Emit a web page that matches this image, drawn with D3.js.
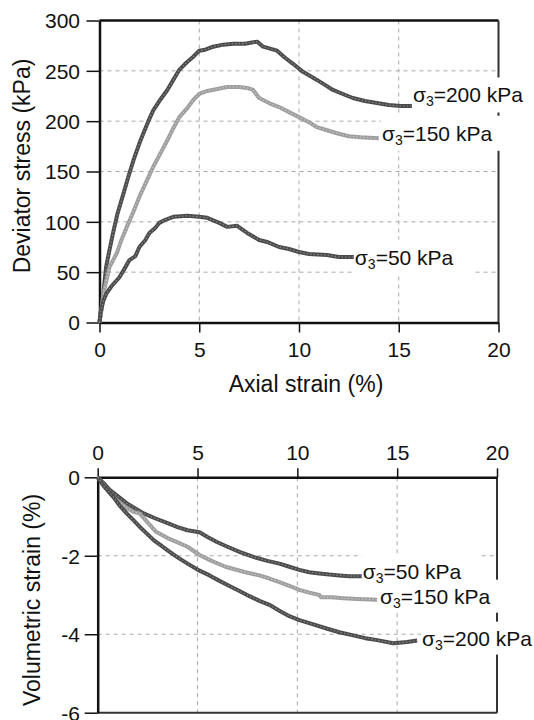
<!DOCTYPE html>
<html><head><meta charset="utf-8">
<script src="https://cdn.jsdelivr.net/npm/d3@7/dist/d3.min.js"></script>
<style>
html,body{margin:0;padding:0;background:#fff;}
svg{display:block;font-family:"Liberation Sans",Arial,Helvetica,sans-serif;}
</style></head>
<body>
<svg id="chart" width="534" height="720"></svg>
<script>
// ---------- data ----------
const strainTicks = [0, 5, 10, 15, 20];
const stressTicks = [0, 50, 100, 150, 200, 250, 300];
const volTicks = [0, -2, -4, -6];

const xTitle = "Axial strain (%)";
const yTitleTop = "Deviator stress (kPa)";
const yTitleBottom = "Volumetric strain (%)";

// deviator stress (kPa) vs axial strain (%)
const devStress200 = [[0,0],[0.1,15],[0.2,30],[0.33,55],[0.5,72],[0.68,89],[0.9,108],[1.2,128],[1.45,145],[1.7,161],[2.0,178],[2.2,188],[2.45,200],[2.7,211],[3.0,220],[3.4,231],[3.7,241],[4.0,251],[4.35,258],[4.7,264],[5.0,270],[5.3,271],[5.7,274],[6.2,276],[6.7,277],[7.3,277],[7.9,279],[8.2,274],[8.9,270],[9.3,263],[9.7,257],[10.2,249],[10.9,241],[11.3,236],[11.7,231],[12.2,227],[12.7,223],[13.3,220],[13.9,218],[14.5,216],[15.1,215],[15.7,215]];
const devStress150 = [[0,0],[0.1,12],[0.2,29],[0.5,55],[0.87,69],[1.1,82],[1.37,95],[1.7,110],[2.0,125],[2.35,140],[2.7,155],[3.0,166],[3.4,181],[3.7,193],[4.0,204],[4.4,213],[4.7,221],[5.0,227],[5.4,230],[5.9,232],[6.4,234],[7.0,234],[7.4,233],[7.7,231],[8.0,223],[8.5,218],[9.0,214],[9.5,209],[10.0,204],[10.5,199],[10.9,194],[11.4,191],[11.9,188],[12.5,185],[13.1,184],[14.0,183]];
const devStress50 = [[0,0],[0.05,10],[0.2,22],[0.35,29],[0.6,36],[1.0,45],[1.3,55],[1.5,62],[1.8,66],[2.0,75],[2.3,82],[2.5,89],[2.8,94],[3.0,99],[3.3,102],[3.7,105],[4.4,106],[5.0,105],[5.4,104],[6.0,99],[6.4,95],[6.9,96],[7.4,89],[8.0,82],[8.4,80],[9.0,75],[9.5,73],[10.0,70],[10.5,68],[11.4,67],[12.0,65],[12.8,65]];

// volumetric strain (%) vs axial strain (%)
const volStrain50 = [[0,0],[0.3,-0.15],[0.6,-0.32],[1.0,-0.48],[1.45,-0.66],[1.9,-0.8],[2.3,-0.92],[2.9,-1.05],[3.5,-1.17],[4.0,-1.27],[4.5,-1.35],[5.1,-1.4],[5.5,-1.52],[5.97,-1.65],[6.5,-1.77],[7.1,-1.9],[7.8,-2.03],[8.5,-2.13],[9.1,-2.2],[9.6,-2.28],[10.1,-2.36],[10.6,-2.42],[11.1,-2.45],[11.6,-2.48],[12.1,-2.5],[12.6,-2.52],[13.3,-2.52]];
const volStrain150 = [[0,0],[0.3,-0.2],[0.6,-0.4],[1.0,-0.6],[1.45,-0.78],[1.8,-0.88],[2.1,-0.92],[2.5,-1.15],[2.9,-1.38],[3.5,-1.55],[4.0,-1.66],[4.5,-1.77],[5.1,-1.98],[5.7,-2.13],[6.4,-2.28],[7.4,-2.42],[8.1,-2.5],[8.6,-2.58],[9.1,-2.67],[9.6,-2.77],[10.1,-2.87],[10.6,-2.94],[11.1,-3.0],[11.2,-3.06],[11.7,-3.06],[12.3,-3.08],[13.0,-3.1],[14.0,-3.12]];
const volStrain200 = [[0,0],[0.3,-0.22],[0.78,-0.5],[1.1,-0.72],[1.45,-0.92],[1.8,-1.1],[2.1,-1.26],[2.45,-1.43],[2.8,-1.6],[3.2,-1.75],[3.5,-1.86],[4.0,-2.04],[4.5,-2.2],[5.1,-2.38],[5.6,-2.5],[6.1,-2.64],[6.6,-2.77],[7.1,-2.9],[7.6,-3.03],[8.1,-3.15],[8.6,-3.25],[9.1,-3.4],[9.6,-3.54],[10.1,-3.64],[10.8,-3.75],[11.5,-3.86],[12.1,-3.95],[12.8,-4.03],[13.4,-4.1],[14.0,-4.15],[14.8,-4.23],[15.5,-4.2],[16.0,-4.16]];

// labels: confining pressure text, anchor position in data units
const topLabels = [
  {p:"200", s:15.71, v:226},
  {p:"150", s:14.16, v:188},
  {p:"50",  s:12.8,  v:65}
];
const bottomLabels = [
  {p:"50",  s:13.28, v:-2.40},
  {p:"150", s:14.14, v:-3.03},
  {p:"200", s:16.24, v:-4.1}
];

// ---------- drawing ----------
const svg = d3.select("#chart");
const DARK = "#4b4b4b", LIGHT = "#9e9e9e";
const GRID = "#a8a8a8";
const tickFont = 21, titleFont = 23, labelFont = 21;

function drawCurve(g, data, x, y, tone) {
  const line = d3.line().x(d => x(d[0])).y(d => y(d[1]));
  const main = tone === "light" ? LIGHT : DARK;
  const tex = tone === "light" ? "#c9c9c9" : "#8c8c8c";
  g.append("path").attr("d", line(data)).attr("fill", "none")
    .attr("stroke", main).attr("stroke-width", 4).attr("stroke-linejoin", "round");
  g.append("path").attr("d", line(data)).attr("fill", "none")
    .attr("stroke", tex).attr("stroke-width", 1.1).attr("stroke-dasharray", "1.5,2");
}

function drawLabels(g, labels, x, y, boxH) {
  const boxes = g.append("g"), texts = g.append("g");
  labels.forEach(lab => {
    const gx = x(lab.s), gy = y(lab.v);
    const rect = boxes.append("rect").attr("fill", "#fff");
    const t = texts.append("text").attr("x", gx).attr("y", gy + 7.5)
      .attr("font-size", labelFont).attr("fill", "#111");
    t.append("tspan").text("σ");
    t.append("tspan").attr("font-size", 14).attr("dy", 4).text("3");
    t.append("tspan").attr("dy", -4).text("=" + lab.p + " kPa");
    const bb = t.node().getBBox();
    rect.attr("x", gx - 1).attr("y", gy - boxH / 2)
      .attr("width", bb.width + 19).attr("height", boxH);
  });
}

// ===== Top chart =====
{
  const L = 99.5, R = 498.5, T = 20.5, B = 322.5;
  const x = d3.scaleLinear().domain([0, 20]).range([L, R]);
  const y = d3.scaleLinear().domain([0, 300]).range([B, T]);
  const g = svg.append("g");

  g.append("g").selectAll("line").data(strainTicks.filter(d => d > 0 && d < 20)).join("line")
    .attr("x1", d => x(d)).attr("x2", d => x(d)).attr("y1", T).attr("y2", B)
    .attr("stroke", GRID).attr("stroke-width", 1).attr("stroke-dasharray", "4,4");
  g.append("g").selectAll("line").data(stressTicks.filter(d => d > 0 && d < 300)).join("line")
    .attr("x1", L).attr("x2", R).attr("y1", d => y(d)).attr("y2", d => y(d))
    .attr("stroke", GRID).attr("stroke-width", 1).attr("stroke-dasharray", "4,4");

  g.append("line").attr("x1", L).attr("x2", R).attr("y1", T).attr("y2", T).attr("stroke", "#111").attr("stroke-width", 2.5);
  g.append("line").attr("x1", R).attr("x2", R).attr("y1", T).attr("y2", B).attr("stroke", "#333").attr("stroke-width", 2);

  const ax = g.append("g").attr("transform", `translate(0,${B})`)
    .call(d3.axisBottom(x).tickValues(strainTicks).tickSize(10).tickSizeOuter(0).tickFormat(d => String(d)));
  const ay = g.append("g").attr("transform", `translate(${L},0)`)
    .call(d3.axisLeft(y).tickValues(stressTicks).tickSize(13).tickSizeOuter(0).tickFormat(d => String(d)));
  [ax, ay].forEach(a => {
    a.select(".domain").attr("stroke", "#111").attr("stroke-width", 2.5);
    a.selectAll(".tick line").attr("stroke", "#111").attr("stroke-width", 1.5);
    a.selectAll(".tick text").attr("font-size", tickFont).attr("fill", "#111")
      .attr("font-family", '"Liberation Sans",Arial,sans-serif');
  });
  ax.selectAll(".tick text").attr("y", 34.5).attr("dy", 0);
  ay.selectAll(".tick text").attr("x", -19.5).attr("dy", "0.35em");

  g.append("text").attr("x", 306).attr("y", 392).attr("text-anchor", "middle")
    .attr("font-size", titleFont).attr("fill", "#111").text(xTitle);
  g.append("text").attr("transform", "translate(30,166) rotate(-90)").attr("text-anchor", "middle")
    .attr("font-size", titleFont).attr("fill", "#111").text(yTitleTop);

  drawCurve(g, devStress200, x, y, "dark");
  drawCurve(g, devStress150, x, y, "light");
  drawCurve(g, devStress50, x, y, "dark");

  drawLabels(g, topLabels, x, y, 35);
}

// ===== Bottom chart =====
{
  const L = 97.7, R = 497, T = 477.3, B = 712.7;
  const x = d3.scaleLinear().domain([0, 20]).range([L, R]);
  const y = d3.scaleLinear().domain([0, -6]).range([T, B]);
  const g = svg.append("g");

  g.append("g").selectAll("line").data(strainTicks.filter(d => d > 0 && d < 20)).join("line")
    .attr("x1", d => x(d)).attr("x2", d => x(d)).attr("y1", T).attr("y2", B)
    .attr("stroke", GRID).attr("stroke-width", 1).attr("stroke-dasharray", "4,4");
  g.append("g").selectAll("line").data(volTicks.filter(d => d < 0 && d > -6)).join("line")
    .attr("x1", L).attr("x2", R).attr("y1", d => y(d)).attr("y2", d => y(d))
    .attr("stroke", GRID).attr("stroke-width", 1).attr("stroke-dasharray", "4,4");

  g.append("line").attr("x1", R).attr("x2", R).attr("y1", T).attr("y2", B).attr("stroke", "#333").attr("stroke-width", 2);
  g.append("line").attr("x1", L).attr("x2", R).attr("y1", B).attr("y2", B).attr("stroke", "#333").attr("stroke-width", 2);

  const ax = g.append("g").attr("transform", `translate(0,${T})`)
    .call(d3.axisTop(x).tickValues(strainTicks).tickSize(9).tickSizeOuter(0).tickFormat(d => String(d)));
  const ay = g.append("g").attr("transform", `translate(${L},0)`)
    .call(d3.axisLeft(y).tickValues(volTicks).tickSize(13).tickSizeOuter(0).tickFormat(d => String(d)));
  [ax, ay].forEach(a => {
    a.select(".domain").attr("stroke", "#111").attr("stroke-width", 2.5);
    a.selectAll(".tick line").attr("stroke", "#111").attr("stroke-width", 1.5);
    a.selectAll(".tick text").attr("font-size", tickFont).attr("fill", "#111")
      .attr("font-family", '"Liberation Sans",Arial,sans-serif');
  });
  ax.selectAll(".tick text").attr("y", -17).attr("dy", 0);
  ay.selectAll(".tick text").attr("x", -17.7).attr("dy", "0.35em");

  g.append("text").attr("transform", "translate(40,600) rotate(-90)").attr("text-anchor", "middle")
    .attr("font-size", titleFont).attr("fill", "#111").text(yTitleBottom);

  drawCurve(g, volStrain50, x, y, "dark");
  drawCurve(g, volStrain150, x, y, "light");
  drawCurve(g, volStrain200, x, y, "dark");

  drawLabels(g, bottomLabels, x, y, 33);
}
</script>
</body></html>
